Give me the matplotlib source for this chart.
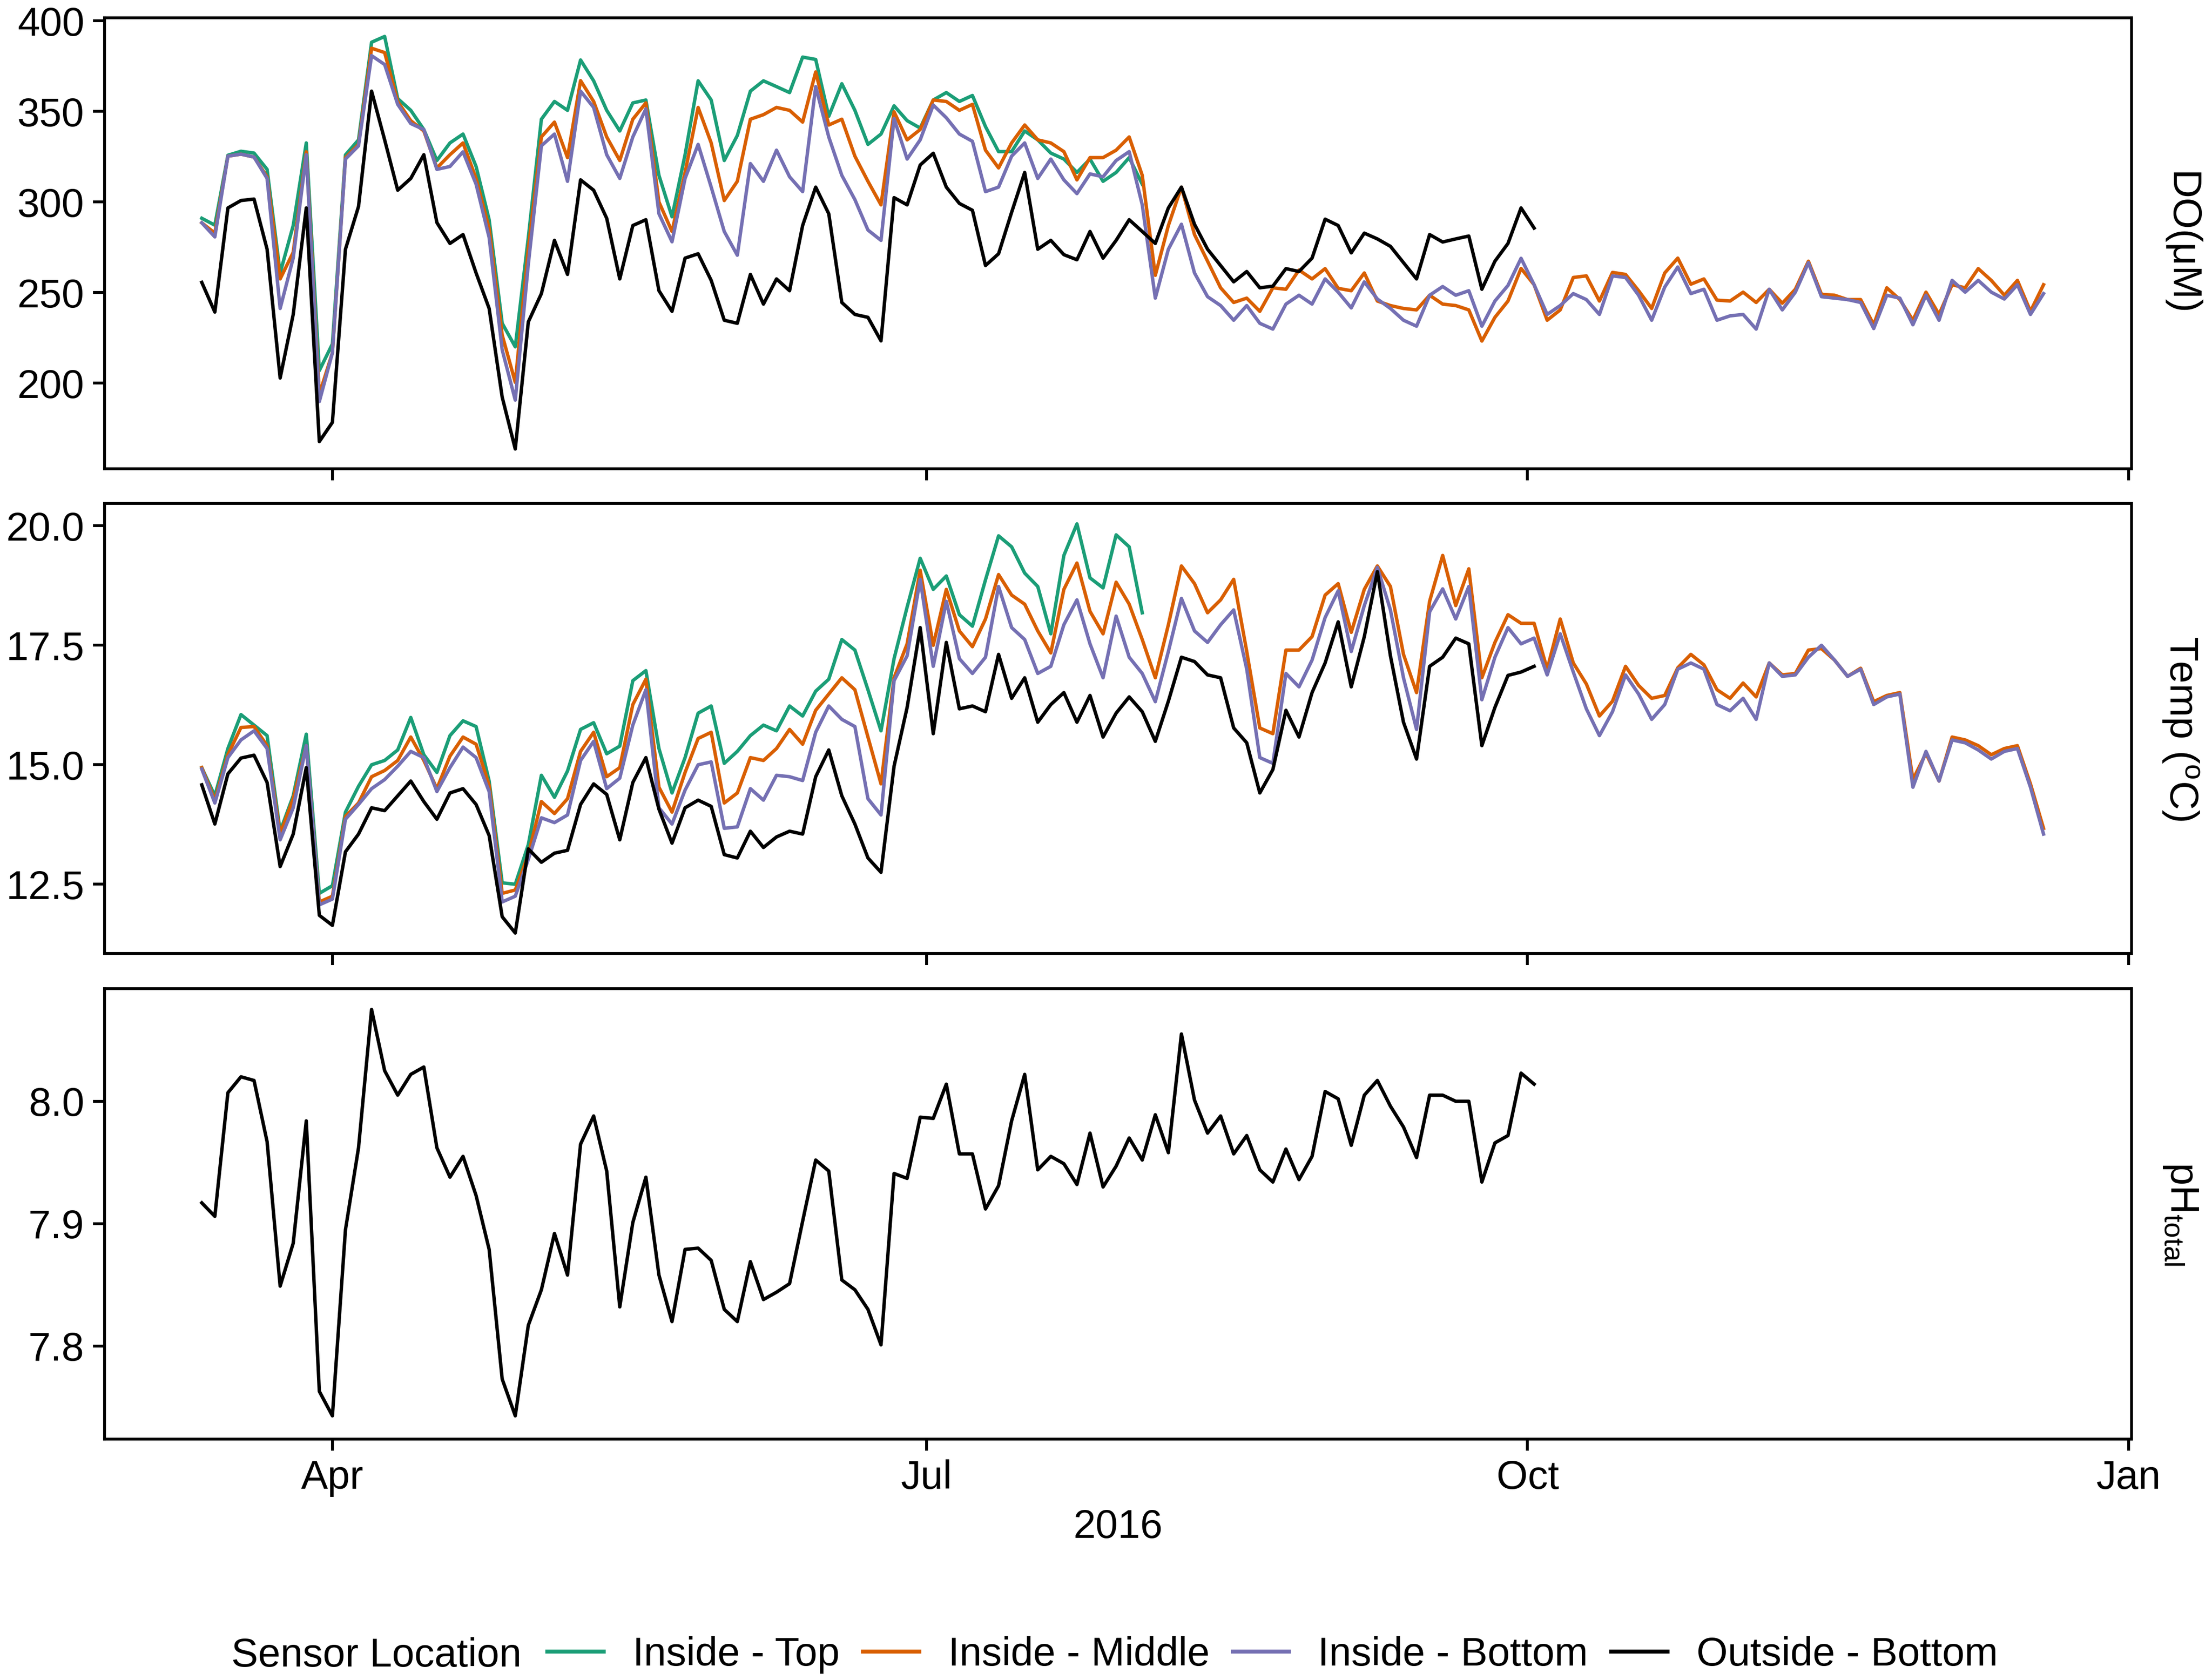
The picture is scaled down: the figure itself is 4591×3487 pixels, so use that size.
import matplotlib
matplotlib.use("Agg")
import matplotlib.pyplot as plt
from matplotlib.lines import Line2D
import pandas as pd

plt.rcParams["font.family"] = ["Liberation Sans", "DejaVu Sans"]
plt.rcParams["mathtext.fontset"] = "custom"
plt.rcParams["mathtext.rm"] = "Liberation Sans"
plt.rcParams["mathtext.it"] = "Liberation Sans:italic"

# ---------------- data (every 2nd day from 2016-03-12) ----------------
START = "2016-03-12"
N_DAYS = 142

do_top = [
    291.0, 287.2, 325.8, 328.0, 327.0, 318.0, 260.8, 287.0, 332.6, 206.9,
    221.6, 326.0, 334.3, 388.2, 391.4, 357.1, 350.6, 340.0, 322.9, 332.6,
    337.5, 319.6, 290.2, 233.0, 220.0, 280.4, 345.7, 355.5, 350.6, 378.4,
    366.9, 350.6, 339.2, 354.7, 356.3, 314.7, 291.8, 326.1, 366.9, 356.3,
    322.9, 336.7, 361.2, 366.9, 363.7, 360.4, 380.0, 378.7, 347.3, 365.3,
    350.6, 331.8, 337.5, 353.1, 344.9, 340.8, 356.3, 360.4, 355.5, 358.8,
    341.6, 327.8, 327.8, 339.2, 334.3, 327.0, 323.7, 316.3, 323.7, 311.4,
    316.3, 324.5, 309.8,
]
do_middle = [
    288.5, 282.8, 325.3, 326.4, 324.8, 313.9, 257.5, 272.2, 327.7, 193.8,
    216.7, 324.5, 331.8, 384.9, 382.5, 355.5, 344.9, 339.2, 318.8, 326.1,
    332.6, 313.0, 285.3, 226.5, 200.4, 273.9, 335.9, 344.1, 324.5, 367.0,
    355.5, 335.9, 322.9, 345.7, 354.7, 300.0, 283.7, 316.3, 352.2, 332.6,
    300.8, 311.4, 345.7, 348.2, 352.2, 350.6, 344.1, 371.8, 342.5, 345.7,
    325.3, 311.4, 298.4, 349.8, 334.3, 340.0, 356.3, 355.5, 350.6, 353.9,
    328.6, 318.8, 332.6, 342.5, 334.3, 332.6, 327.8, 312.2, 324.5, 324.5,
    328.6, 335.9, 314.7, 259.5, 287.0, 308.2, 282.0, 267.3, 252.6, 244.5,
    246.9, 239.6, 252.6, 251.8, 262.4, 257.5, 263.2, 252.3, 251.0, 260.8,
    245.3, 242.8, 241.2, 240.4, 248.5, 243.6, 242.8, 240.4, 223.2, 236.3,
    245.3, 263.3, 254.3, 234.7, 240.4, 258.3, 259.2, 245.3, 261.1, 260.0,
    251.0, 241.2, 260.8, 269.0, 254.6, 257.5, 245.8, 245.3, 250.2, 244.5,
    251.8, 244.1, 251.8, 267.3, 249.0, 248.5, 246.1, 246.1, 232.2, 252.6,
    246.1, 234.7, 250.2, 237.9, 254.3, 252.6, 263.2, 256.7, 248.5, 256.7,
    239.6, 254.3,
]
do_bottom = [
    288.5, 280.7, 325.3, 326.4, 324.8, 313.0, 241.2, 269.0, 326.1, 189.8,
    216.7, 323.7, 331.0, 380.8, 375.9, 353.9, 343.3, 340.0, 318.0, 319.6,
    327.7, 309.8, 280.4, 218.3, 190.6, 265.7, 331.0, 337.5, 311.4, 361.2,
    352.2, 326.1, 313.0, 335.9, 351.4, 293.5, 278.0, 313.0, 331.8, 308.2,
    283.7, 270.6, 321.2, 311.4, 328.6, 313.9, 305.7, 363.7, 335.9, 314.7,
    301.3, 284.5, 278.8, 346.0, 323.7, 334.3, 353.5, 346.5, 337.5, 333.5,
    305.7, 308.2, 325.3, 332.6, 313.0, 323.7, 312.2, 304.6, 315.5, 313.9,
    322.9, 327.8, 298.4, 246.9, 273.9, 287.7, 260.8, 247.7, 242.8, 234.7,
    242.8, 233.0, 229.8, 243.6, 248.5, 243.6, 257.5, 250.2, 241.5, 255.9,
    246.4, 241.2, 234.7, 231.4, 248.5, 253.3, 248.5, 251.0, 231.4, 245.3,
    253.9, 268.9, 254.3, 237.9, 242.8, 249.4, 246.1, 237.9, 259.2, 258.3,
    248.5, 234.7, 253.0, 264.1, 249.4, 251.8, 234.7, 237.1, 237.9, 229.8,
    251.8, 240.4, 250.2, 266.5, 247.7, 246.9, 246.1, 244.5, 230.1, 248.5,
    246.9, 232.2, 248.5, 234.7, 256.7, 250.2, 256.7, 250.2, 246.4, 254.3,
    237.9, 249.4,
]
do_outside = [
    255.6, 239.2, 296.7, 300.8, 301.6, 273.9, 202.8, 237.9, 296.7, 167.7,
    178.3, 273.9, 297.5, 361.2, 334.3, 306.5, 313.0, 326.1, 288.6, 277.1,
    282.0, 260.8, 241.2, 192.2, 163.6, 233.8, 249.4, 278.8, 260.0, 312.2,
    306.5, 291.0, 257.5, 287.0, 290.2, 251.0, 239.6, 269.0, 271.4, 256.7,
    234.7, 233.0, 260.0, 243.6, 257.5, 251.0, 287.0, 308.2, 293.5, 244.5,
    237.9, 236.3, 223.3, 302.4, 298.4, 320.4, 326.9, 308.2, 299.2, 295.4,
    264.9, 271.4, 294.3, 316.3, 273.9, 278.8, 270.9, 268.1, 283.7, 269.0,
    278.8, 290.2, 283.7, 277.1, 296.7, 308.2, 287.7, 273.9, 264.9, 255.9,
    261.6, 252.6, 253.5, 263.2, 261.6, 269.0, 290.5, 287.0, 271.9, 282.8,
    279.6, 275.5, 266.5, 257.5, 282.0, 277.9, 279.6, 281.2, 251.8, 267.3,
    277.1, 296.7, 285.6,
]

temp_top = [
    14.94, 14.35, 15.34, 16.05, 15.83, 15.61, 13.61, 14.35, 15.64, 12.31,
    12.47, 14.01, 14.55, 15.00, 15.09, 15.31, 15.99, 15.21, 14.84, 15.61,
    15.92, 15.80, 14.66, 12.53, 12.50, 13.33, 14.78, 14.32, 14.87, 15.74,
    15.88, 15.23, 15.39, 16.76, 16.97, 15.34, 14.41, 15.15, 16.08, 16.23,
    15.03, 15.28, 15.61, 15.83, 15.71, 16.23, 16.02, 16.54, 16.79, 17.62,
    17.40, 16.57, 15.71, 17.22, 18.30, 19.32, 18.67, 18.95, 18.14, 17.90,
    18.87, 19.79, 19.56, 19.01, 18.73, 17.74, 19.38, 20.04, 18.91, 18.70,
    19.81, 19.56, 18.18,
]
temp_middle = [
    14.94, 14.26, 15.21, 15.78, 15.80, 15.40, 13.55, 14.29, 15.40, 12.13,
    12.25, 13.92, 14.20, 14.75, 14.88, 15.09, 15.58, 15.09, 14.50, 15.18,
    15.58, 15.43, 14.57, 12.31, 12.38, 13.12, 14.23, 13.98, 14.29, 15.28,
    15.68, 14.75, 14.94, 16.26, 16.79, 14.53, 14.01, 14.84, 15.55, 15.68,
    14.20, 14.41, 15.15, 15.09, 15.34, 15.74, 15.43, 16.14, 16.48, 16.82,
    16.57, 15.58, 14.60, 16.82, 17.53, 19.07, 17.50, 18.67, 17.80, 17.47,
    18.05, 18.98, 18.55, 18.36, 17.80, 17.34, 18.67, 19.22, 18.21, 17.74,
    18.82, 18.36, 17.62, 16.82, 17.93, 19.16, 18.79, 18.18, 18.45, 18.88,
    17.37, 15.77, 15.65, 17.40, 17.40, 17.68, 18.55, 18.79, 17.77, 18.67,
    19.16, 18.73, 17.31, 16.51, 18.42, 19.38, 18.33, 19.10, 16.82, 17.56,
    18.14, 17.96, 17.96, 17.00, 18.05, 17.13, 16.69, 16.02, 16.33, 17.06,
    16.66, 16.39, 16.45, 17.03, 17.31, 17.09, 16.57, 16.39, 16.71, 16.42,
    17.13, 16.88, 16.91, 17.40, 17.43, 17.19, 16.85, 17.02, 16.32, 16.45,
    16.51, 14.69, 15.24, 14.66, 15.58, 15.52, 15.40, 15.21, 15.34, 15.40,
    14.60, 13.67,
]
temp_bottom = [
    14.91, 14.20, 15.15, 15.52, 15.71, 15.34, 13.43, 14.10, 15.40, 12.07,
    12.19, 13.86, 14.17, 14.50, 14.69, 14.97, 15.28, 15.15, 14.44, 14.94,
    15.37, 15.15, 14.44, 12.13, 12.25, 13.02, 13.89, 13.79, 13.95, 15.09,
    15.49, 14.50, 14.72, 15.83, 16.57, 14.10, 13.76, 14.47, 15.00, 15.06,
    13.67, 13.70, 14.50, 14.26, 14.78, 14.75, 14.67, 15.68, 16.23, 15.95,
    15.80, 14.29, 13.95, 16.76, 17.28, 18.88, 17.06, 18.42, 17.22, 16.91,
    17.25, 18.73, 17.87, 17.62, 16.91, 17.06, 17.93, 18.45, 17.53, 16.82,
    18.11, 17.25, 16.91, 16.32, 17.37, 18.48, 17.80, 17.56, 17.93, 18.24,
    17.00, 15.15, 15.03, 16.91, 16.63, 17.19, 18.08, 18.64, 17.37, 18.33,
    19.13, 18.24, 16.82, 15.74, 18.20, 18.68, 18.05, 18.73, 16.36, 17.25,
    17.87, 17.53, 17.65, 16.88, 17.74, 16.94, 16.17, 15.61, 16.11, 16.88,
    16.48, 15.95, 16.26, 17.00, 17.13, 17.00, 16.26, 16.13, 16.39, 15.95,
    17.13, 16.85, 16.88, 17.25, 17.50, 17.19, 16.85, 17.00, 16.26, 16.42,
    16.48, 14.53, 15.28, 14.66, 15.52, 15.46, 15.31, 15.12, 15.28, 15.34,
    14.53, 13.55,
]
temp_outside = [
    14.58, 13.76, 14.81, 15.14, 15.20, 14.63, 12.87, 13.55, 14.94, 11.85,
    11.64, 13.18, 13.55, 14.10, 14.04, 14.35, 14.66, 14.23, 13.86, 14.41,
    14.50, 14.17, 13.52, 11.82, 11.48, 13.24, 12.96, 13.15, 13.21, 14.17,
    14.60, 14.38, 13.43, 14.63, 15.15, 14.07, 13.36, 14.10, 14.26, 14.13,
    13.12, 13.05, 13.61, 13.27, 13.49, 13.61, 13.55, 14.75, 15.31, 14.35,
    13.76, 13.05, 12.75, 14.97, 16.20, 17.87, 15.65, 17.56, 16.17, 16.23,
    16.11, 17.31, 16.39, 16.82, 15.89, 16.26, 16.51, 15.89, 16.45, 15.58,
    16.08, 16.42, 16.11, 15.49, 16.33, 17.25, 17.16, 16.88, 16.82, 15.77,
    15.46, 14.41, 14.90, 16.14, 15.58, 16.51, 17.13, 17.99, 16.63, 17.68,
    19.04, 17.28, 15.89, 15.12, 17.06, 17.25, 17.65, 17.53, 15.40, 16.20,
    16.87, 16.94, 17.06,
]

ph_outside = [
    7.917, 7.906, 8.007, 8.020, 8.017, 7.967, 7.849, 7.884, 7.984, 7.763,
    7.743, 7.895, 7.962, 8.075, 8.025, 8.005, 8.022, 8.028, 7.962, 7.938,
    7.955, 7.923, 7.879, 7.773, 7.743, 7.817, 7.846, 7.892, 7.858, 7.965,
    7.988, 7.943, 7.832, 7.901, 7.938, 7.858, 7.820, 7.879, 7.880, 7.870,
    7.830, 7.820, 7.869, 7.838, 7.844, 7.851, 7.902, 7.952, 7.943, 7.854,
    7.846, 7.830, 7.801, 7.941, 7.937, 7.987, 7.986, 8.014, 7.957, 7.957,
    7.912, 7.931, 7.984, 8.022, 7.944, 7.955, 7.949, 7.932, 7.974, 7.930,
    7.947, 7.970, 7.952, 7.989, 7.958, 8.055, 8.001, 7.974, 7.988, 7.957,
    7.972, 7.944, 7.934, 7.961, 7.936, 7.955, 8.008, 8.002, 7.964, 8.005,
    8.017, 7.996, 7.979, 7.954, 8.005, 8.005, 8.000, 8.000, 7.934, 7.966,
    7.972, 8.023, 8.014,
]

locations = ["Inside - Top", "Inside - Middle", "Inside - Bottom", "Outside - Bottom"]
colors = ["#1B9E77", "#D95F02", "#7570B3", "#000000"]

month_ticks = ["2016-04-01", "2016-07-01", "2016-10-01", "2017-01-01"]
month_labels = ["Apr", "Jul", "Oct", "Jan"]

do_ticks = [200, 250, 300, 350, 400]
temp_ticks = [12.5, 15.0, 17.5, 20.0]
ph_ticks = [7.8, 7.9, 8.0]

# ---------------- figure ----------------
FS = 20
dates = pd.date_range(START, periods=N_DAYS, freq="2D")

fig = plt.figure(figsize=(4591 / 300, 3487 / 300), dpi=300)
left, width = 0.0473, 0.9164
ax_do = fig.add_axes([left, 0.7211, width, 0.2682])
ax_t = fig.add_axes([left, 0.4324, width, 0.2680])
ax_ph = fig.add_axes([left, 0.1434, width, 0.2681])

panels = [
    (ax_do, [do_top, do_middle, do_bottom, do_outside], (152.8, 401.6),
     do_ticks, "{:.0f}", "DO(\u03bcM)"),
    (ax_t, [temp_top, temp_middle, temp_bottom, temp_outside], (11.05, 20.47),
     temp_ticks, "{:.1f}", r"Temp ($^{\mathrm{o}}$C)"),
    (ax_ph, [None, None, None, ph_outside], (7.724, 8.092),
     ph_ticks, "{:.1f}", r"pH$_{\mathrm{total}}$"),
]

xlim = (pd.Timestamp("2016-02-26 03:00"), pd.Timestamp("2017-01-01 12:00"))
xticks = [pd.Timestamp(d) for d in month_ticks]

for ax, series, ylim, yticks, fmt, strip in panels:
    for vals, col in zip(series, colors):
        if vals is None:
            continue
        ax.plot(dates[:len(vals)], vals, color=col, lw=1.7)
    ax.set_xlim(*xlim)
    ax.set_ylim(*ylim)
    ax.set_yticks(yticks)
    ax.set_yticklabels([fmt.format(v) for v in yticks])
    ax.set_xticks(xticks)
    ax.set_xticklabels(month_labels if ax is ax_ph else [])
    ax.tick_params(axis="both", direction="out", length=5.8, width=1.4,
                   labelsize=FS, colors="black", pad=4.3)
    for sp in ax.spines.values():
        sp.set_linewidth(1.4)
        sp.set_color("black")
    bb = ax.get_position()
    fig.text(0.9858, bb.y0 + bb.height / 2, strip, rotation=-90,
             ha="center", va="center", fontsize=FS)

fig.text(0.5054, 0.0846, "2016", ha="center", va="baseline", fontsize=FS)

# legend along the bottom
handles = [Line2D([], [], color=c, lw=2.0) for c in colors]
fig.text(0.2357, 0.0081, "Sensor Location", ha="right", va="baseline", fontsize=FS)
fig.legend(handles, locations, loc="center left", bbox_to_anchor=(0.2475, 0.0148),
           ncol=4, frameon=False, fontsize=FS, borderpad=0, borderaxespad=0,
           handlelength=1.4, handletextpad=0.72, columnspacing=0.58)

fig.savefig("out.png", dpi=300)
